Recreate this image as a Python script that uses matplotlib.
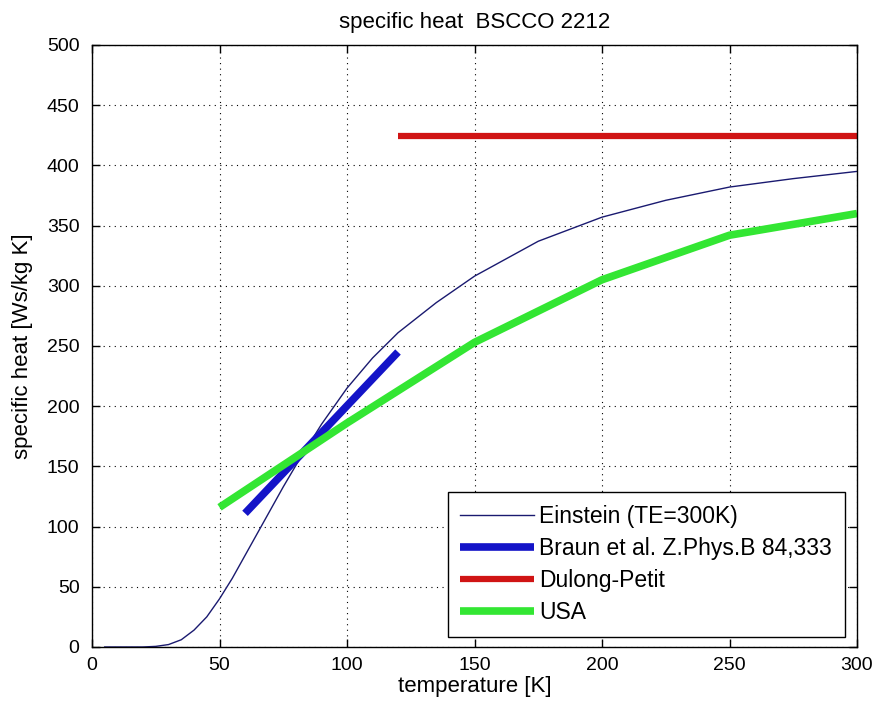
import matplotlib
matplotlib.use("Agg")
import matplotlib.pyplot as plt

plt.rcParams['font.family'] = ['Liberation Sans', 'DejaVu Sans']

# Einstein model (TE=300K)
einstein_T = [5, 20, 25, 30, 35, 40, 45, 50, 55, 60, 65, 70, 75, 80, 90, 100,
              110, 120, 135, 150, 175, 200, 225, 250, 275, 300]
einstein_c = [0, 0, 0.5, 2, 6, 14, 25, 40, 57, 76, 95, 114, 133, 151, 185, 215,
              240, 261, 286, 308, 337, 357, 371, 382, 389, 395]

# Braun et al. Z.Phys.B 84,333
braun_T = [60, 120]
braun_c = [111, 245]

# Dulong-Petit limit
dulong_T = [120, 300]
dulong_c = [424, 424]

# USA data
usa_T = [50, 100, 150, 200, 250, 300]
usa_c = [116, 186, 253, 305, 342, 360]

labels = ["Einstein (TE=300K)", "Braun et al. Z.Phys.B 84,333", "Dulong-Petit", "USA"]

fig = plt.figure(figsize=(8.78, 7.13), dpi=100)
ax = fig.add_axes([0.1048, 0.0926, 0.8713, 0.8443])

ax.plot(einstein_T, einstein_c, color='#1a1a70', lw=1.0, label=labels[0])
ax.plot(braun_T, braun_c, color='#1414c8', lw=5.5, solid_capstyle='butt', label=labels[1])
ax.plot(dulong_T, dulong_c, color='#d01414', lw=4.5, solid_capstyle='butt', label=labels[2])
ax.plot(usa_T, usa_c, color='#33e633', lw=5.5, solid_capstyle='butt', label=labels[3])

ax.set_xlim(0, 300)
ax.set_ylim(0, 500)
ax.set_xticks(range(0, 301, 50))
ax.set_yticks(range(0, 501, 50))
ax.grid(True, color='black', linestyle=(0, (1, 4)), linewidth=0.8)
ax.tick_params(direction='in', length=6, top=True, right=True, labelsize=14, width=1)
ax.tick_params(axis='y', pad=9)
ax.tick_params(axis='x', pad=7)
for s in ax.spines.values():
    s.set_linewidth(1.0)

ax.set_title("specific heat  BSCCO 2212", fontsize=16, pad=12)
ax.set_xlabel("temperature [K]", fontsize=16, labelpad=2)
ax.set_ylabel("specific heat [Ws/kg K]", fontsize=16, labelpad=10)

leg = ax.legend(loc='lower right', bbox_to_anchor=(0.984, 0.0166), borderaxespad=0,
                fontsize=16.5, fancybox=False, framealpha=1, edgecolor='black',
                handlelength=3.2, handletextpad=0.25, labelspacing=0.4,
                borderpad=0.55)
leg.get_frame().set_linewidth(1.0)

fig.savefig("out.png", dpi=100)
